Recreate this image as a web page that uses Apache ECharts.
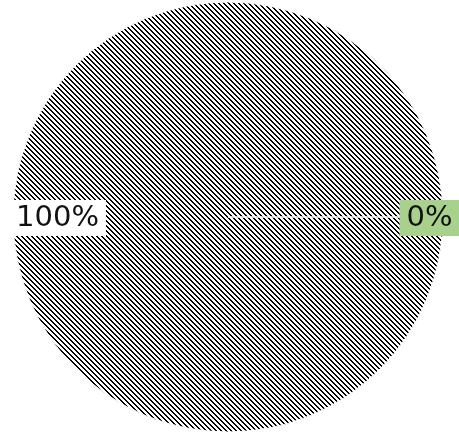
<!DOCTYPE html>
<html>
<head>
<meta charset="utf-8">
<style>
  html, body { margin: 0; padding: 0; background: #ffffff; }
  #chart { width: 459px; height: 433px; }
</style>
<script src="https://cdn.jsdelivr.net/npm/echarts@6/dist/echarts.min.js"></script>
</head>
<body>
<div id="chart"></div>
<script>
// Share of responses: one slice holds everything, the other nothing.
const categories = ['Sí', 'No'];
const values = [100, 0];
const labelTexts = ['100%', '0%'];

// Diagonal hatch fill: "\" lines 2px wide, 5px period.
function makeHatch() {
  const size = 5;
  const c = document.createElement('canvas');
  c.width = size;
  c.height = size;
  const ctx = c.getContext('2d');
  ctx.fillStyle = '#ffffff';
  ctx.fillRect(0, 0, size, size);
  ctx.fillStyle = '#000000';
  for (let y = 0; y < size; y++) {
    for (let x = 0; x < size; x++) {
      const d = ((x - y) % size + size) % size;
      if (d === 0 || d === 1) ctx.fillRect(x, y, 1, 1);
    }
  }
  return c;
}
const hatch = makeHatch();

const labelBg = ['#ffffff', '#a9d18e'];
const labelShift = [-60, 91];

const chart = echarts.init(document.getElementById('chart'), null, { renderer: 'canvas' });
chart.setOption({
  animation: false,
  backgroundColor: '#ffffff',
  series: [{
    type: 'pie',
    center: [228, 217],
    radius: 215,
    startAngle: 0,
    clockwise: true,
    avoidLabelOverlap: false,
    minShowLabelAngle: 0,
    itemStyle: {
      color: { image: hatch, repeat: 'repeat' },
      borderColor: '#ffffff',
      borderWidth: 1
    },
    label: {
      show: true,
      position: 'inside',
      fontFamily: 'DejaVu Sans',
      fontSize: 29,
      lineHeight: 30,
      color: '#111111',
      padding: [3, 7, 3, 7]
    },
    labelLine: { show: false },
    emphasis: { disabled: true },
    labelLayout: function (p) {
      return { dx: labelShift[p.dataIndex], dy: 1 };
    },
    data: categories.map(function (name, i) {
      return {
        name: name,
        value: values[i],
        label: {
          formatter: labelTexts[i],
          backgroundColor: labelBg[i]
        }
      };
    })
  }]
});
</script>
</body>
</html>
